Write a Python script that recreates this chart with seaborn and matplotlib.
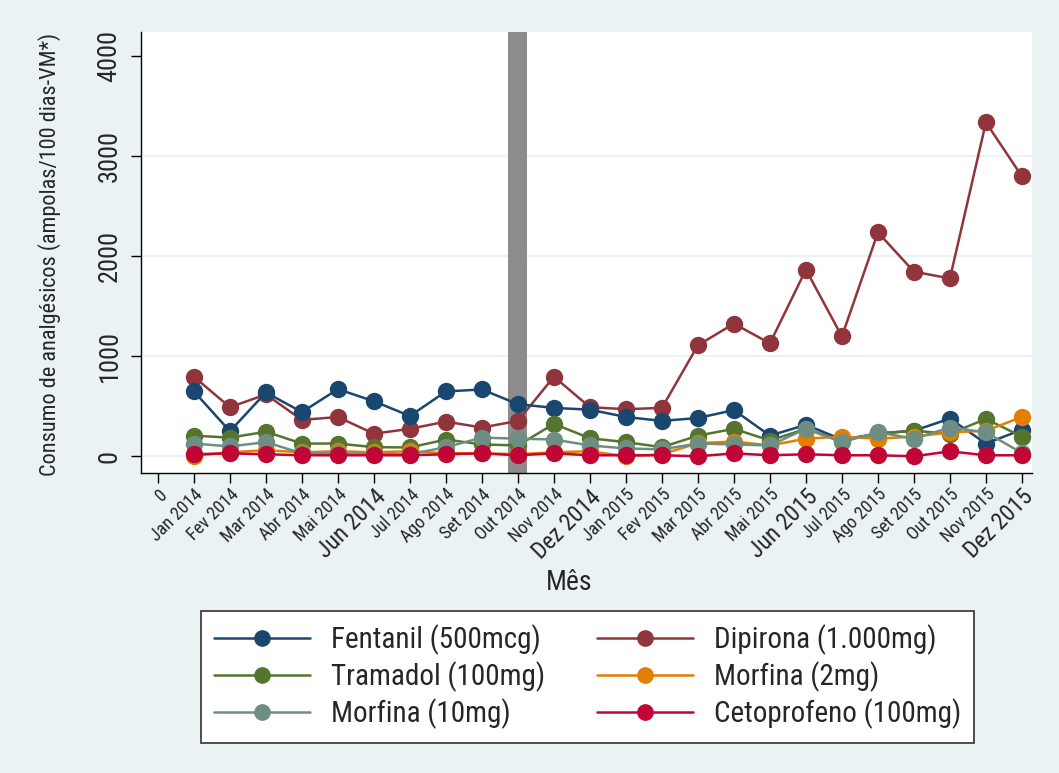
import matplotlib
matplotlib.use("Agg")
import matplotlib.pyplot as plt
import seaborn as sns
import pandas as pd
from matplotlib.lines import Line2D

months = ["Jan 2014", "Fev 2014", "Mar 2014", "Abr 2014", "Mai 2014", "Jun 2014",
          "Jul 2014", "Ago 2014", "Set 2014", "Out 2014", "Nov 2014", "Dez 2014",
          "Jan 2015", "Fev 2015", "Mar 2015", "Abr 2015", "Mai 2015", "Jun 2015",
          "Jul 2015", "Ago 2015", "Set 2015", "Out 2015", "Nov 2015", "Dez 2015"]
tick_labels = ["0"] + months
big_labels = ["Jun 2014", "Dez 2014", "Jun 2015", "Dez 2015"]

fentanil = [647, 250, 637, 441, 670, 549, 402, 647, 667, 520, 483, 465,
            392, 353, 382, 461, 206, 314, 167, 225, 255, 376, 127, 265]
dipirona = [794, 490, 617, 363, 392, 225, 274, 346, 287, 353, 794, 490,
            470, 483, 1108, 1324, 1127, 1863, 1196, 2235, 1843, 1775, 3333, 2794]
tramadol = [206, 186, 245, 127, 127, 91, 88, 167, 118, 108, 323, 180,
            141, 91, 206, 274, 157, 274, 157, 229, 255, 225, 373, 196]
morfina2 = [5, 40, 60, 40, 50, 40, 50, 30, 30, 20, 40, 50,
            0, 20, 131, 147, 108, 176, 196, 176, 196, 239, 255, 392]
morfina10 = [127, 98, 141, 29, 29, 25, 20, 91, 186, 176, 167, 108,
             78, 69, 127, 118, 108, 274, 141, 239, 176, 287, 239, 33]
cetoprofeno = [20, 29, 20, 10, 10, 10, 10, 20, 29, 10, 29, 10,
               10, 10, 0, 29, 10, 20, 10, 10, 0, 49, 10, 10]

series_names = ["Fentanil (500mcg)", "Dipirona (1.000mg)", "Tramadol (100mg)",
                "Morfina (2mg)", "Morfina (10mg)", "Cetoprofeno (100mg)"]
series_values = [fentanil, dipirona, tramadol, morfina2, morfina10, cetoprofeno]
colors = ["#1a476f", "#90353b", "#55752f", "#e37e00", "#6e8e84", "#c10534"]
draw_order = ["Dipirona (1.000mg)", "Fentanil (500mcg)", "Tramadol (100mg)",
              "Morfina (2mg)", "Morfina (10mg)", "Cetoprofeno (100mg)"]

intervention_month = "Out 2014"

rows = []
for name, vals in zip(series_names, series_values):
    for i, v in enumerate(vals):
        rows.append({"pos": i + 1, "value": v, "serie": name})
df = pd.DataFrame(rows)

sns.set_theme(style="white")
plt.rcParams['font.family'] = ['Roboto Condensed', 'DejaVu Sans']

bg = "#eaf2f3"
fig = plt.figure(figsize=(10.59, 7.73), dpi=100, facecolor=bg)
ax = fig.add_axes([141/1059, 1 - 473/773, (1032-141)/1059, (473-32)/773])
ax.set_facecolor("white")

ax.set_xlim(-0.47, 24.28)
ax.set_ylim(-167, 4235)

for gy in [0, 1000, 2000, 3000]:
    ax.axhline(gy, color=bg, lw=1.5, zorder=0)

ipos = months.index(intervention_month) + 1
ax.axvspan(ipos - 0.28, ipos + 0.25, color="#8c8c8c", zorder=1, lw=0)

palette = dict(zip(series_names, colors))
for z, name in enumerate(draw_order):
    sub = df[df["serie"] == name]
    sns.lineplot(data=sub, x="pos", y="value", color=palette[name], marker="o",
                 markersize=12.5, markeredgewidth=0, lw=1.8, ax=ax,
                 legend=False, zorder=3 + z)

ax.set_xticks(range(len(tick_labels)))
ax.set_xticklabels(tick_labels)
for lbl in ax.get_xticklabels():
    big = lbl.get_text() in big_labels
    lbl.set_rotation(45)
    lbl.set_ha("right")
    lbl.set_va("top")
    lbl.set_rotation_mode("anchor")
    lbl.set_fontsize(17 if big else 13)
ax.set_yticks([0, 1000, 2000, 3000, 4000])
ax.set_yticklabels(["0", "1000", "2000", "3000", "4000"], rotation=90, va="center",
                   fontsize=19)
ax.tick_params(axis="both", which="both", length=7, width=1, color="black",
               direction="out", bottom=True, left=True)
ax.tick_params(axis="y", pad=7)
ax.tick_params(axis="x", pad=2)

for s in ["top", "right"]:
    ax.spines[s].set_visible(False)
for s in ["left", "bottom"]:
    ax.spines[s].set_color("black")
    ax.spines[s].set_linewidth(1)

ax.set_xlabel("Mês", fontsize=20)
ax.xaxis.set_label_coords((569 - 141) / 891, -(583 - 473) / 441)
ax.xaxis.label.set_va("center")
ax.set_ylabel("Consumo de analgésicos (ampolas/100 dias-VM*)", fontsize=16)
ax.yaxis.set_label_coords(-(141 - 50) / 891, (473 - 254) / 441)
ax.yaxis.label.set_va("center")

# legend filled row-wise (2 columns)
leg_order = [0, 2, 4, 1, 3, 5]
handles = [Line2D([0], [0], color=colors[i], lw=1.8, marker="o", markersize=11)
           for i in leg_order]
labels = [series_names[i] for i in leg_order]
leg = fig.legend(handles, labels, loc="center",
                 bbox_to_anchor=((195 + 980) / 2 / 1059, 1 - 677 / 773),
                 ncol=2, fontsize=21, frameon=True, fancybox=False,
                 edgecolor="#404040", facecolor="white", framealpha=1,
                 handlelength=3.3, columnspacing=1.8, labelspacing=0.22,
                 borderpad=0.45, handletextpad=0.7)
leg.get_frame().set_linewidth(1.3)

fig.savefig("out.png", dpi=100, facecolor=bg)
